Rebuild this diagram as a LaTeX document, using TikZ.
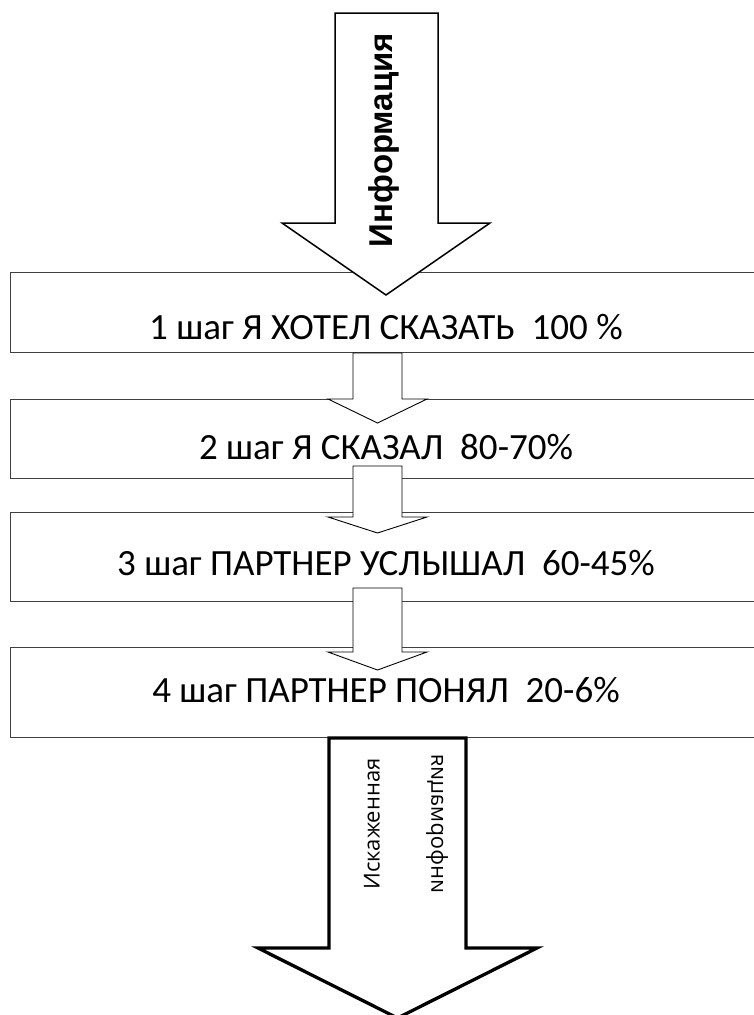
\documentclass[tikz,border=0pt]{standalone}
\usepackage{fontspec}
\setmainfont{Carlito}
\newfontfamily\boldarrowfont{Liberation Sans}
\newfontfamily\thinarrowfont{Open Sans}
\usetikzlibrary{positioning}

\begin{document}
\begin{tikzpicture}[
					x=1pt, y=-1pt,
					stepbox/.style={draw=black!75, line width=1.2pt, fill=white, minimum width=790pt, inner sep=0pt, anchor=north west},
					steptext/.style={font=\fontsize{37}{42}\selectfont},
					smallarrow/.style={draw=black, line width=0.9pt, fill=white, line join=miter},
					bigarrow/.style={draw=black, fill=white, line join=miter}
					]
					\useasboundingbox (0,0) rectangle (753,1015);
					% steps
					\node[stepbox, minimum height=80pt] (box1) at (10,272) {};
					\node[stepbox, minimum height=79pt] (box2) at (10,399) {};
					\node[stepbox, minimum height=89pt] (box3) at (10,512) {};
					\node[stepbox, minimum height=90pt] (box4) at (10,647) {};
					% arrows
					\draw[bigarrow, line width=1.5pt] (335,13) -- (335,223) -- (282,223) -- (386,295) -- (490,223) -- (438,223) -- (438,13) -- cycle;
					\draw[smallarrow] (353,353) -- (353,399) -- (328,399) -- (377.5,423) -- (427,399) -- (402,399) -- (402,353) -- cycle;
					\draw[smallarrow] (353,466) -- (353,517) -- (328,517) -- (377.5,533) -- (427,517) -- (402,517) -- (402,466) -- cycle;
					\draw[smallarrow] (353,588) -- (353,652) -- (328,652) -- (377.5,670) -- (427,652) -- (402,652) -- (402,588) -- cycle;
					\draw[bigarrow, line width=3.3pt] (329,738) -- (329,948) -- (258,948) -- (397.5,1018) -- (537,948) -- (466,948) -- (466,738) -- cycle;
					% labels
					\node[steptext] (text1) at (386,327) {1 шаг Я ХОТЕЛ СКАЗАТЬ\ \ 100 \%};
					\node[steptext] (text2) at (386,447) {2 шаг Я СКАЗАЛ\ \ 80-70\%};
					\node[steptext] (text3) at (386,563) {3 шаг ПАРТНЕР УСЛЫШАЛ\ \ 60-45\%};
					\node[steptext] (text4) at (386,690) {4 шаг ПАРТНЕР ПОНЯЛ\ \ 20-6\%};
					\node[rotate=90, font=\boldarrowfont\bfseries\fontsize{33}{38}\selectfont] (infoin) at (384,140) {Информация};
					\node[rotate=90, font=\thinarrowfont\fontsize{22}{26}\selectfont] (infoout1) at (372,824) {Искаженная};
					\node[rotate=90, yscale=-1, font=\thinarrowfont\fontsize{22}{26}\selectfont] (infoout2) at (437,824) {информация};
				\end{tikzpicture}
\end{document}
